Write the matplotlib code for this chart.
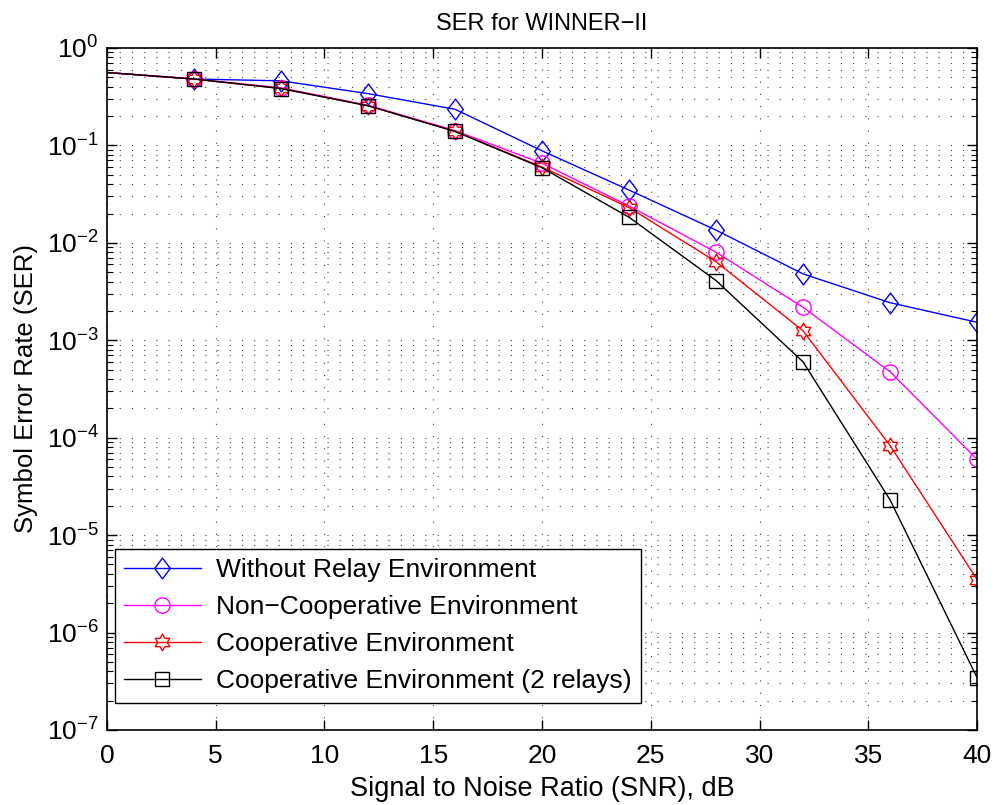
import numpy as np
import matplotlib
matplotlib.use("Agg")
import matplotlib.pyplot as plt
from matplotlib.path import Path

plt.rcParams['font.family'] = ['Liberation Sans', 'DejaVu Sans']
plt.rcParams['mathtext.fontset'] = 'custom'
plt.rcParams['mathtext.rm'] = 'Liberation Sans'
plt.rcParams['mathtext.it'] = 'Liberation Sans'
plt.rcParams['mathtext.default'] = 'regular'

snr = [0, 4, 8, 12, 16, 20, 24, 28, 32, 36, 40]
ser_no_relay = [0.56, 0.48, 0.46, 0.34, 0.235, 0.088, 0.0348, 0.0135, 0.0048, 0.00243, 0.00153]
ser_noncoop = [0.56, 0.48, 0.39, 0.258, 0.142, 0.0655, 0.0239, 0.0080, 0.00218, 0.000475, 6.0e-5]
ser_coop = [0.56, 0.48, 0.385, 0.256, 0.140, 0.060, 0.0230, 0.0064, 0.00125, 8.3e-5, 3.5e-6]
ser_coop2 = [0.56, 0.48, 0.383, 0.255, 0.139, 0.059, 0.0183, 0.0041, 0.00060, 2.3e-5, 3.45e-7]
labels = ["Without Relay Environment", "Non\u2212Cooperative Environment",
          "Cooperative Environment", "Cooperative Environment (2 relays)"]
title = "SER for WINNER\u2212II"
xlabel = "Signal to Noise Ratio (SNR), dB"
ylabel = "Symbol Error Rate (SER)"

# hexagram marker
ang_out = np.deg2rad(90 + np.arange(6) * 60)
ang_in = ang_out + np.deg2rad(30)
r_in = 1 / np.sqrt(3)
verts = []
for a, b in zip(ang_out, ang_in):
    verts.append((np.cos(a), np.sin(a)))
    verts.append((r_in * np.cos(b), r_in * np.sin(b)))
verts.append(verts[0])
codes = [Path.MOVETO] + [Path.LINETO] * 11 + [Path.CLOSEPOLY]
hexagram = Path(verts, codes)

# diamond marker (width 0.75 of height)
diamond = Path([(0, 1), (0.75, 0), (0, -1), (-0.75, 0), (0, 1)],
               [Path.MOVETO, Path.LINETO, Path.LINETO, Path.LINETO, Path.CLOSEPOLY])

fig = plt.figure(figsize=(9.96, 8.05), dpi=100)
ax = fig.add_axes([0.1074, 0.0932, 0.8736, 0.8472])

series = [ser_no_relay, ser_noncoop, ser_coop, ser_coop2]
colors = ['#0000ff', '#ff00ff', '#ff0000', '#000000']
markers = [diamond, 'o', hexagram, 's']
msizes = [15, 11, 12, 9.5]
for s, c, m, ms, lab in zip(series, colors, markers, msizes, labels):
    ax.plot(snr, s, color=c, lw=1.0, marker=m, ms=ms, mfc='none', mec=c, mew=1.0,
            markevery=slice(1, None), label=lab)

ax.set_yscale('log')
ax.set_xlim(0, 40)
ax.set_ylim(1e-7, 1)
ax.set_xticks(np.arange(0, 41, 5))
ax.set_yticks([10.0 ** k for k in range(-7, 1)])

ax.grid(True, which='major', color='0.25', lw=0.8, linestyle=(0, (1, 10)))
ax.grid(True, which='minor', axis='y', color='0.25', lw=0.8, linestyle=(0, (1, 10)))

ax.tick_params(which='both', direction='in', top=True, right=True, labelsize=19)
ax.tick_params(which='major', length=7, width=1.0)
ax.tick_params(which='minor', length=4, width=0.8)
ax.tick_params(axis='x', pad=10)
ax.tick_params(axis='y', pad=6)
for sp in ax.spines.values():
    sp.set_linewidth(1.2)

ax.set_title(title, fontsize=17, pad=13)
ax.set_xlabel(xlabel, fontsize=19.5, labelpad=6)
ax.set_ylabel(ylabel, fontsize=18.5, labelpad=6)

leg = ax.legend(loc='lower left', bbox_to_anchor=(0.009, 0.04), fontsize=19, frameon=True,
                fancybox=False, edgecolor='black', framealpha=1, borderpad=0.35,
                handlelength=2.9, labelspacing=0.5, handletextpad=0.6, borderaxespad=0)
leg.get_frame().set_linewidth(1.0)

fig.savefig("out.png", dpi=100)
